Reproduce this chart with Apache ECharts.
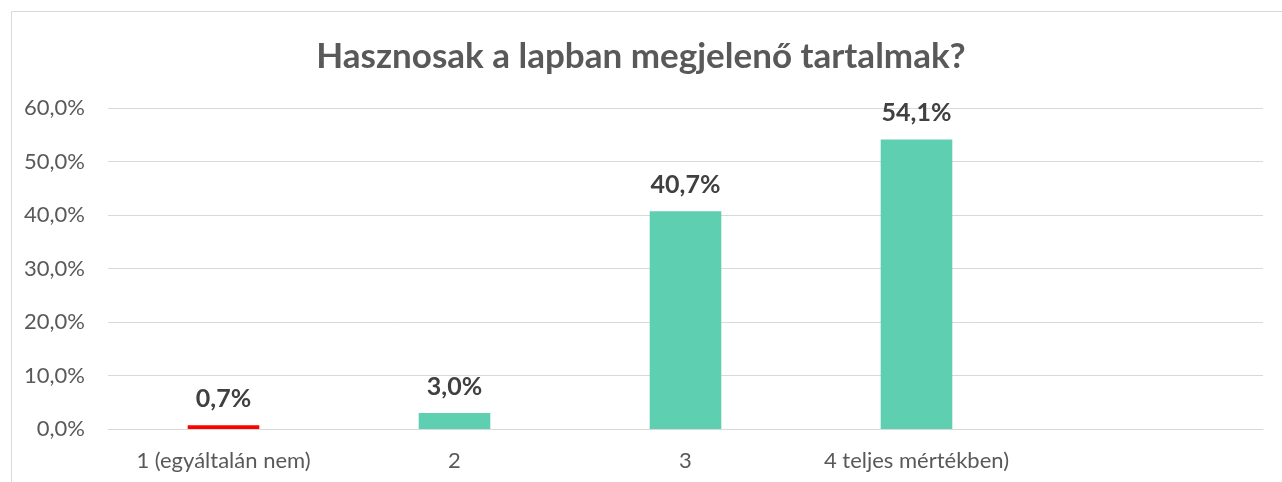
<!DOCTYPE html>
<html>
<head>
<meta charset="utf-8">
<script src="https://cdn.jsdelivr.net/npm/echarts@6/dist/echarts.min.js"></script>
<style>
html, body { margin: 0; padding: 0; background: #fff; }
#chart { width: 1282px; height: 482px; }
</style>
</head>
<body>
<div id="chart"></div>
<script>
var categories = ['1 (egyáltalán nem)', '2', '3', '4 teljes mértékben)', ''];
var values = [0.7, 3.0, 40.7, 54.1, null];
var barColors = ['#ff0000', '#5ecfb1', '#5ecfb1', '#5ecfb1', '#5ecfb1'];
var yTicks = { min: 0, max: 60, interval: 10 };

var fontFam = 'Lato, "Open Sans", sans-serif';

var myChart = echarts.init(document.getElementById('chart'));

var option = {
	animation: false,
	graphic: [{
		type: 'rect',
		left: 9, top: 9,
		shape: { width: 1300, height: 520 },
		style: { fill: null, stroke: '#d9d9d9', lineWidth: 1 }
	}],
	title: {
		text: 'Hasznosak a lapban megjelenő tartalmak?',
		left: 'center',
		top: 34,
		textStyle: { fontFamily: fontFam, fontSize: 35, fontWeight: 'bold', color: '#595959' }
	},
	grid: { left: 108, right: 19, top: 108, bottom: 53 },
	xAxis: {
		type: 'category',
		data: categories,
		axisLine: { lineStyle: { color: '#d9d9d9', width: 1 } },
		axisTick: { show: false },
		axisLabel: { fontFamily: fontFam, fontSize: 22, color: '#595959', margin: 21, interval: 0 }
	},
	yAxis: {
		type: 'value',
		min: yTicks.min, max: yTicks.max, interval: yTicks.interval,
		axisLine: { show: false },
		axisTick: { show: false },
		splitLine: { lineStyle: { color: '#d9d9d9', width: 1 } },
		axisLabel: {
			fontFamily: fontFam, fontSize: 22, color: '#595959', margin: 23,
			formatter: function (v) { return v.toFixed(1).replace('.', ',') + '%'; }
		}
	},
	series: [{
		type: 'bar',
		barWidth: '31%',
		data: values.map(function (v, i) {
			return { value: v, itemStyle: { color: barColors[i] } };
		}),
		label: {
			show: true,
			position: 'top',
			distance: 14,
			fontFamily: fontFam, fontSize: 25, fontWeight: 'bold', color: '#404040',
			formatter: function (p) { return p.value.toFixed(1).replace('.', ',') + '%'; }
		}
	}]
};

myChart.setOption(option);
</script>
</body>
</html>
